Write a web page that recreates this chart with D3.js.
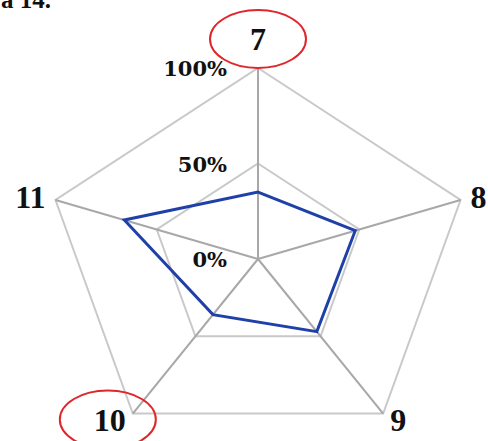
<!DOCTYPE html>
<html>
<head>
<meta charset="utf-8">
<script src="https://cdn.jsdelivr.net/npm/d3@7"></script>
<style>
  html, body { margin: 0; padding: 0; background: #fff; }
  svg { display: block; }
  text { font-family: "Liberation Serif", "Times New Roman", serif; font-weight: bold; fill: #111; }
  text.tick { font-family: "DejaVu Serif", serif; }
</style>
</head>
<body>
<svg id="chart" width="488" height="441"></svg>
<script>
const categories = ["7", "8", "9", "10", "11"];
const values = [35, 48, 47, 36, 66];
const ringLevels = [50, 100];
const tickValues = [0, 50, 100];
const tickLabels = ["0%", "50%", "100%"];
const highlighted = ["7", "10"];

const W = 488, H = 441;
const cx = 258, cy = 259, R = 191, xStretch = 1.115;

const svg = d3.select("#chart");

const r = d3.scaleLinear().domain([0, 100]).range([0, R]);
const angle = d3.scaleBand().domain(categories).range([0, 2 * Math.PI]).paddingInner(0).paddingOuter(0);
const ang = c => angle(c);
const px = (c, v) => cx + r(v) * Math.sin(ang(c)) * xStretch;
const py = (c, v) => cy - r(v) * Math.cos(ang(c));

// Top partial caption text (cut by the top edge, as in the source)
svg.append("text").attr("x", 1).attr("y", 8)
  .style("font-size", "25px").text("a 14.");

// Rings
const line = d3.line().x(d => d[0]).y(d => d[1]).curve(d3.curveLinearClosed);
svg.selectAll("path.ring").data(ringLevels).enter().append("path")
  .attr("class", "ring")
  .attr("d", lv => line(categories.map(c => [px(c, lv), py(c, lv)])))
  .attr("fill", "none").attr("stroke", "#c9c9c9").attr("stroke-width", 2);

// Spokes
svg.selectAll("line.spoke").data(categories).enter().append("line")
  .attr("class", "spoke")
  .attr("x1", cx).attr("y1", cy)
  .attr("x2", c => px(c, 100)).attr("y2", c => py(c, 100))
  .attr("stroke", "#a8a8a8").attr("stroke-width", 2);

// Data polygon
svg.append("path")
  .attr("d", line(categories.map((c, i) => [px(c, values[i]), py(c, values[i])])))
  .attr("fill", "none").attr("stroke", "#1f40a8").attr("stroke-width", 3)
  .attr("stroke-linejoin", "miter");

// Tick labels (right-aligned just left of top spoke)
svg.selectAll("text.tick").data(tickValues).enter().append("text")
  .attr("class", "tick")
  .attr("x", cx - 31)
  .attr("y", v => cy - r(v) + 8)
  .attr("text-anchor", "end")
  .style("font-size", "21px")
  .text((v, i) => tickLabels[i]);

// Category labels
function labelPos(c) {
  const a = ang(c);
  const vx = px(c, 100), vy = py(c, 100);
  const s = Math.sin(a), co = Math.cos(a);
  if (Math.abs(s) < 0.01) return { x: vx, y: vy - 18, anchor: "middle" };
  if (co > 0) return { x: vx + Math.sign(s) * 10, y: vy + 8, anchor: s > 0 ? "start" : "end" };
  return { x: vx + Math.sign(s) * 7, y: vy + 17, anchor: s > 0 ? "start" : "end" };
}
svg.selectAll("text.cat").data(categories).enter().append("text")
  .attr("class", "cat")
  .attr("x", c => labelPos(c).x)
  .attr("y", c => labelPos(c).y)
  .attr("text-anchor", c => labelPos(c).anchor)
  .style("font-size", "32px")
  .text(c => c);

// Red highlight ellipses
svg.selectAll("ellipse.hl").data(highlighted).enter().append("ellipse")
  .attr("class", "hl")
  .attr("cx", c => {
    const p = labelPos(c);
    const w = c.length * 16;
    return p.anchor === "middle" ? p.x : (p.anchor === "end" ? p.x - w / 2 - 2 : p.x + w / 2);
  })
  .attr("cy", c => labelPos(c).y - 11)
  .attr("rx", 48).attr("ry", 29)
  .attr("fill", "none").attr("stroke", "#e0262a").attr("stroke-width", 2);
</script>
</body>
</html>
